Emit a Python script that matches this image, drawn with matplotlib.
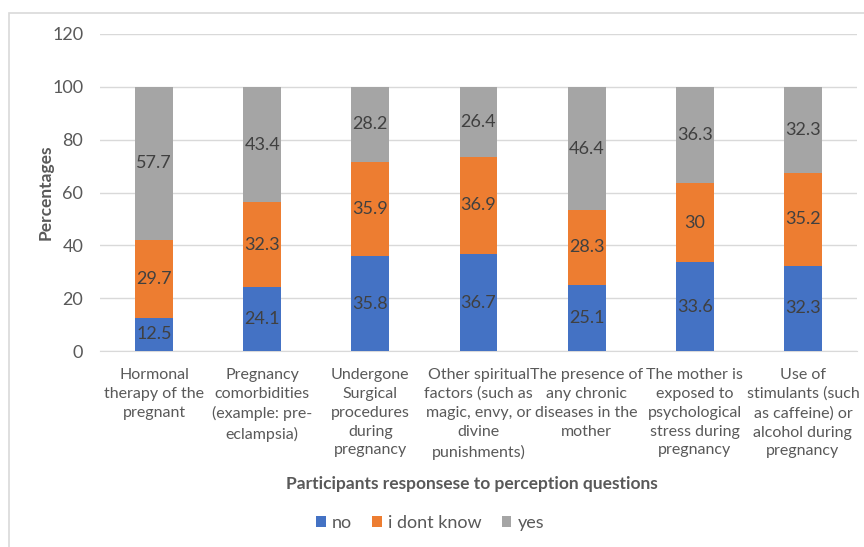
import matplotlib.pyplot as plt
from matplotlib.patches import Rectangle

# Survey results per perception question (percent of participants)
questions = [
    "Hormonal\ntherapy of the\npregnant",
    "Pregnancy\ncomorbidities\n(example: pre-\neclampsia)",
    "Undergone\nSurgical\nprocedures\nduring\npregnancy",
    "Other spiritual\nfactors (such as\nmagic, envy, or\ndivine\npunishments)",
    "The presence of\nany chronic\ndiseases in the\nmother",
    "The mother is\nexposed to\npsychological\nstress during\npregnancy",
    "Use of\nstimulants (such\nas caffeine) or\nalcohol during\npregnancy",
]
no = [12.5, 24.1, 35.8, 36.7, 25.1, 33.6, 32.3]
dont_know = [29.7, 32.3, 35.9, 36.9, 28.3, 30, 35.2]
yes = [57.7, 43.4, 28.2, 26.4, 46.4, 36.3, 32.3]

plt.rcParams['font.family'] = ['Lato', 'DejaVu Sans']
text_col = '#595959'

fig = plt.figure(figsize=(8.64, 5.47), dpi=100)
# light outer frame round the chart
fig.patches.append(Rectangle((9 / 864, -0.1), 1.1, 1 - 13 / 547 + 0.1,
                             transform=fig.transFigure, fill=False,
                             edgecolor='#D9D9D9', linewidth=1.2))

ax = fig.add_axes([100 / 864, 1 - 351 / 547, 757 / 864, 317 / 547])

x = range(len(questions))
w = 0.35
series = [(no, '#4472C4', 'no'), (dont_know, '#ED7D31', 'i dont know'), (yes, '#A5A5A5', 'yes')]
bottom = [0] * len(questions)
for vals, col, name in series:
    bars = ax.bar(x, vals, w, bottom=bottom, color=col, label=name, zorder=3)
    for xi, b, v in zip(x, bottom, vals):
        ax.text(xi, b + v / 2, f"{v:g}", ha='center', va='center',
                fontsize=13, color='#404040', zorder=4)
    bottom = [b + v for b, v in zip(bottom, vals)]

ax.set_xlim(-0.5, len(questions) - 0.5)
ax.set_ylim(0, 120)
ax.set_yticks(range(0, 121, 20))
ax.yaxis.grid(True, color='#D9D9D9', linewidth=1, zorder=0)
for s in ['top', 'right', 'left']:
    ax.spines[s].set_visible(False)
ax.spines['bottom'].set_color('#D9D9D9')
ax.tick_params(length=0, labelsize=13, colors=text_col)
ax.tick_params(axis='y', pad=12)
ax.tick_params(axis='x', pad=12, labelsize=11.5)
ax.set_xticks(list(x))
ax.set_xticklabels(questions, linespacing=1.45, va='top')

ax.set_ylabel("Percentages", fontsize=12.5, fontweight='bold', color=text_col, labelpad=-1)
fig.text(0.5 + 40 / 864, 1 - 484 / 547, "Participants responsese to perception questions",
         ha='center', va='center', fontsize=12.5, fontweight='bold', color=text_col)

fig.legend(loc='center', bbox_to_anchor=(430 / 864, 1 - 523 / 547), ncol=3,
           frameon=False, fontsize=13, handlelength=0.55, handleheight=0.55,
           handletextpad=0.35, columnspacing=1.1, labelcolor=text_col)

fig.savefig("out.png", dpi=100)
